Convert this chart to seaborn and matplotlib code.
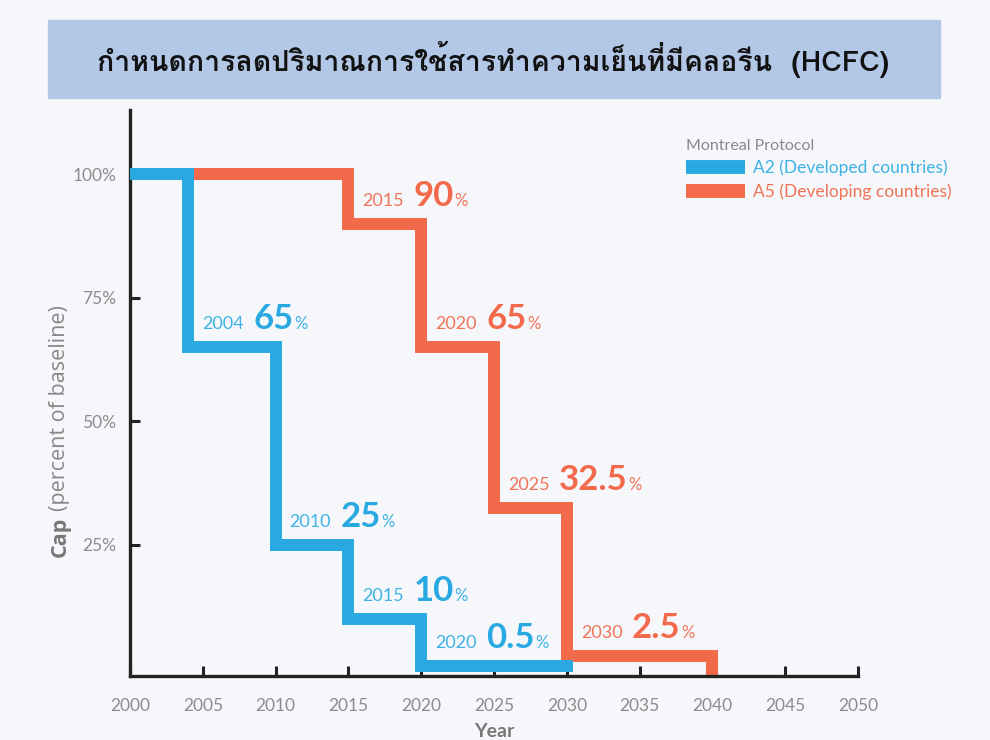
import matplotlib
matplotlib.use("Agg")
import matplotlib.pyplot as plt
from matplotlib import font_manager
from matplotlib.ft2font import FT2Font
from matplotlib.lines import Line2D
from matplotlib.patches import Rectangle
import pandas as pd
import seaborn as sns

# data
a2_years = [2000, 2004, 2010, 2015, 2020, 2030]
a2_caps = [100, 65, 25, 10, 0.5, 0.5]
a5_years = [2000, 2015, 2020, 2025, 2030, 2040]
a5_caps = [100, 90, 65, 32.5, 2.5, 0]

a2_label_years = [2004, 2010, 2015, 2020]
a2_label_caps = [65, 25, 10, 0.5]
a5_label_years = [2015, 2020, 2025, 2030]
a5_label_caps = [90, 65, 32.5, 2.5]

x_ticks = list(range(2000, 2051, 5))
y_ticks = [25, 50, 75, 100]

title = "กำหนดการลดปริมาณการใช้สารทำความเย็นที่มีคลอรีน  (HCFC)"
series_names = ["A2 (Developed countries)", "A5 (Developing countries)"]

BLUE = "#29a9e1"
RED = "#f26a4b"
BLUE_TXT = "#3fb3e6"
RED_TXT = "#f07457"
GREY = "#8c8c8c"
BG = "#f6f7fb"
SANS = ["Lato", "DejaVu Sans"]


def find_thai_font():
    found = []
    for f in font_manager.fontManager.ttflist:
        try:
            ft = FT2Font(f.fname)
            if ft.get_char_index(ord("ก")):
                found.append(f)
        except Exception:
            continue
    if not found:
        return "DejaVu Sans"
    bold = [f for f in found if str(f.weight) in ("bold", "700", "heavy", "800")]
    return (bold or found)[0].name


thai_font = find_thai_font()

sns.set_style("white", {"xtick.bottom": True, "ytick.left": True})
plt.rcParams["font.family"] = SANS

fig = plt.figure(figsize=(9.9, 7.4), dpi=100, facecolor=BG)
ax = fig.add_axes([0.1313, 0.0865, 0.7354, 0.765], facecolor=BG)

# title banner
fig.patches.append(Rectangle((48 / 990, 1 - 98 / 740), 892 / 990, 78 / 740,
                             transform=fig.transFigure, color="#b3c7e7", zorder=0))
fig.text(493 / 990, 1 - 60 / 740, title, ha="center", va="center",
         fontsize=20.5, fontweight="bold", color="#111111",
         family=[thai_font, "DejaVu Sans"])

a2 = pd.DataFrame({"year": a2_years, "cap": a2_caps})
a5 = pd.DataFrame({"year": a5_years, "cap": a5_caps})

line_kw = dict(drawstyle="steps-post", linewidth=8.6, solid_joinstyle="miter",
               solid_capstyle="projecting")
sns.lineplot(data=a5, x="year", y="cap", color=RED, ax=ax, zorder=2, **line_kw)
sns.lineplot(data=a2, x="year", y="cap", color=BLUE, ax=ax, zorder=3, **line_kw)


def step_label(year, cap, txt_color, num_color):
    t1 = ax.annotate(str(year), xy=(year, cap), xytext=(10, 13),
                     textcoords="offset points", fontsize=13, color=txt_color,
                     va="baseline", ha="left")
    t2 = ax.annotate(f"{cap:g}", xy=(1, cap), xycoords=(t1, "data"), xytext=(7, 13),
                     textcoords="offset points", fontsize=25, fontweight="bold",
                     color=num_color, va="baseline", ha="left")
    ax.annotate("%", xy=(1, cap), xycoords=(t2, "data"), xytext=(0.5, 13),
                textcoords="offset points", fontsize=12, color=txt_color,
                va="baseline", ha="left")


for y, c in zip(a2_label_years, a2_label_caps):
    step_label(y, c, BLUE_TXT, BLUE)
for y, c in zip(a5_label_years, a5_label_caps):
    step_label(y, c, RED_TXT, RED)

ax.set_xlim(2000, 2050)
ax.set_ylim(-1.5, 113)
ax.set_xticks(x_ticks)
ax.set_xticklabels([str(t) for t in x_ticks])
ax.set_yticks(y_ticks)
ax.set_yticklabels([f"{t}%" for t in y_ticks])
ax.tick_params(direction="in", length=7, width=2.2, color="#222222", bottom=True,
               left=True, labelsize=12.5, labelcolor=GREY)
ax.tick_params(axis="x", pad=16)
ax.tick_params(axis="y", pad=10)
ax.set_xlabel("Year", fontsize=14, fontweight="bold", color="#777777", labelpad=6)
ax.set_ylabel("")
for side in ["top", "right"]:
    ax.spines[side].set_visible(False)
for side in ["left", "bottom"]:
    ax.spines[side].set_linewidth(2.4)
    ax.spines[side].set_color("#222222")

# y label with bold "Cap"
cap_txt = fig.text(60 / 990, 1 - 557 / 740, "Cap", rotation=90, ha="center",
                   va="bottom", fontsize=15.5, fontweight="bold", color="#777777",
                   family=["Open Sans", "DejaVu Sans"])
ax.annotate("(percent of baseline)", xy=(0.5, 1), xycoords=cap_txt, xytext=(0, 4),
            textcoords="offset points", rotation=90, ha="center", va="bottom",
            fontsize=15.5, color="#888888", annotation_clip=False,
            family=["Open Sans", "DejaVu Sans"])

handles = [Line2D([], [], color=BLUE, lw=10, solid_capstyle="butt"),
           Line2D([], [], color=RED, lw=10, solid_capstyle="butt")]
leg = ax.legend(handles, series_names, title="Montreal Protocol", loc="upper left",
                bbox_to_anchor=(670 / 990, 1 - 123 / 740),
                bbox_transform=fig.transFigure, frameon=False, fontsize=12.5,
                handlelength=3.4, handletextpad=0.5, labelspacing=0.4,
                labelcolor=[BLUE_TXT, RED_TXT], alignment="left", title_fontsize=11.5)
leg.get_title().set_color("#888888")

fig.savefig("out.png", dpi=100, facecolor=BG)
